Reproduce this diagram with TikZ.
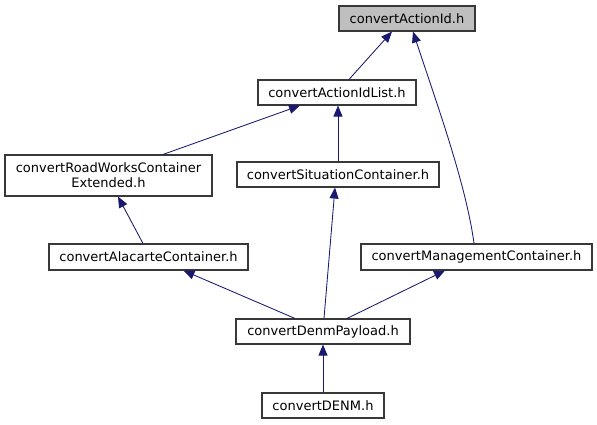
\documentclass[tikz,border=0pt]{standalone}
\usepackage{fontspec}
\setmainfont{DejaVu Sans}
\usepackage{tikz}
\usetikzlibrary{arrows.meta,calc,positioning}
\definecolor{edgeblue}{HTML}{191970}
\definecolor{rootgray}{HTML}{BFBFBF}

\begin{document}
\begin{tikzpicture}[x=1pt, y=-1pt,
    file/.style={draw=black!78, fill=white, line width=1.1pt, inner sep=0pt,
      minimum height=25pt, font=\fontsize{13}{15}\selectfont, align=center},
    inc/.style={draw=edgeblue, line width=0.85pt, {Triangle[length=11pt,width=9pt]}-}]
            \useasboundingbox (0,0) rectangle (597,425);
            % files
            \node[file, fill=rootgray, minimum width=136pt] (aid) at (407,18.5) {convertActionId.h};
            \node[file, minimum width=158pt] (list) at (337,92.5) {convertActionIdList.h};
            \node[file, minimum width=207pt, minimum height=41pt] (road) at (108.5,175.5) {convertRoadWorksContainer\\Extended.h};
            \node[file, minimum width=202pt] (sit) at (338,174.5) {convertSituationContainer.h};
            \node[file, minimum width=199pt, minimum height=26pt] (alac) at (148.5,257) {convertAlacarteContainer.h};
            \node[file, minimum width=231pt, minimum height=26pt] (mgmt) at (476.5,257) {convertManagementContainer.h};
            \node[file, minimum width=174pt] (pay) at (323,331.5) {convertDenmPayload.h};
            \node[file, minimum width=122pt] (denm) at (323,405.5) {convertDENM.h};
            % includes
            \draw[inc] ([xshift=-15pt]aid.south) -- ([xshift=12pt]list.north);
            \draw[inc] ([xshift=6pt]aid.south) .. controls +(22,67) and +(-8,-60) .. ([xshift=-2.5pt]mgmt.north);
            \draw[inc] ([xshift=-37pt]list.south) -- ([xshift=54.5pt]road.north);
            \draw[inc] (sit.north |- list.south) -- (sit.north);
            \draw[inc] ([xshift=9.5pt]road.south) -- ([xshift=-5.5pt]alac.north);
            \draw[inc] ([xshift=-3pt]sit.south) -- ([xshift=1pt]pay.north);
            \draw[inc] ([xshift=35pt]alac.south) -- ([xshift=-28pt]pay.north);
            \draw[inc] ([xshift=-31.5pt]mgmt.south) -- ([xshift=24pt]pay.north);
            \draw[inc] (pay.south) -- (denm.north);
          \end{tikzpicture}
\end{document}
